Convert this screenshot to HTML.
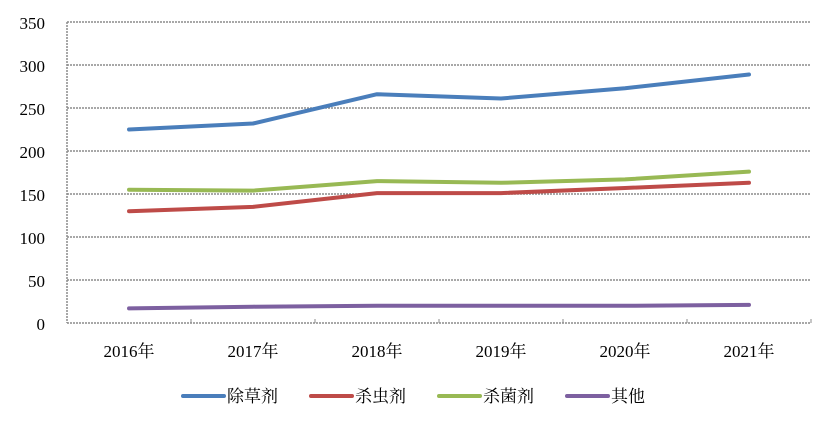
<!DOCTYPE html>
<html><head><meta charset="utf-8"><style>
body{margin:0;background:#fff}
text{font-family:"Liberation Serif","Noto Serif CJK SC",serif;font-size:17px;fill:#000}
</style></head><body>
<svg width="831" height="426" xmlns="http://www.w3.org/2000/svg">
<g stroke="#8c8c8c" stroke-width="1.5" stroke-dasharray="2,1">
<line x1="67" y1="22" x2="811" y2="22"/><line x1="67" y1="65" x2="811" y2="65"/>
<line x1="67" y1="108" x2="811" y2="108"/><line x1="67" y1="151" x2="811" y2="151"/>
<line x1="67" y1="194" x2="811" y2="194"/><line x1="67" y1="237" x2="811" y2="237"/>
<line x1="67" y1="280" x2="811" y2="280"/><line x1="67" y1="323" x2="811" y2="323"/>
<line x1="67" y1="22" x2="67" y2="323"/>
</g>
<g stroke="#8c8c8c" stroke-width="1">
<line x1="191" y1="319" x2="191" y2="323"/><line x1="315" y1="319" x2="315" y2="323"/>
<line x1="439" y1="319" x2="439" y2="323"/><line x1="563" y1="319" x2="563" y2="323"/>
<line x1="687" y1="319" x2="687" y2="323"/><line x1="811" y1="319" x2="811" y2="323"/>
</g>
<g text-anchor="end">
<text x="45" y="29">350</text><text x="45" y="72">300</text><text x="45" y="115">250</text>
<text x="45" y="158">200</text><text x="45" y="201">150</text><text x="45" y="244">100</text>
<text x="45" y="287">50</text><text x="45" y="330">0</text>
</g>
<g text-anchor="middle">
<text x="129" y="357">2016年</text><text x="253" y="357">2017年</text><text x="377" y="357">2018年</text>
<text x="501" y="357">2019年</text><text x="625" y="357">2020年</text><text x="749" y="357">2021年</text>
</g>
<g fill="none" stroke-width="4" stroke-linejoin="round" stroke-linecap="round">
<polyline stroke="#4a7ebb" points="129,129.5 253,123.5 377,94.2 501,98.5 625,88.2 749,74.5"/>
<polyline stroke="#be4b48" points="129,211.2 253,206.9 377,193.1 501,193.1 625,188 749,182.8"/>
<polyline stroke="#98b954" points="129,189.7 253,190.6 377,181.1 501,182.8 625,179.4 749,171.6"/>
<polyline stroke="#7d60a0" points="129,308.4 253,306.7 377,305.8 501,305.8 625,305.8 749,304.9"/>
<line stroke="#4a7ebb" x1="183" y1="396" x2="224" y2="396"/>
<line stroke="#be4b48" x1="311" y1="396" x2="352" y2="396"/>
<line stroke="#98b954" x1="439" y1="396" x2="480" y2="396"/>
<line stroke="#7d60a0" x1="567" y1="396" x2="608" y2="396"/>
</g>
<text x="227" y="402">除草剂</text><text x="355" y="402">杀虫剂</text>
<text x="483" y="402">杀菌剂</text><text x="611" y="402">其他</text>
</svg>
</body></html>
